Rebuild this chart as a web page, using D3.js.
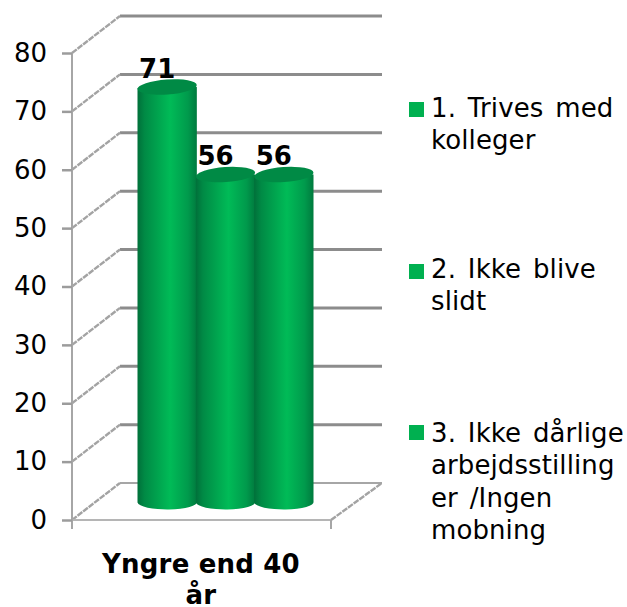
<!DOCTYPE html>
<html>
<head>
<meta charset="utf-8">
<script src="https://cdn.jsdelivr.net/npm/d3@7"></script>
<style>
  html, body { margin: 0; padding: 0; background: #fff; }
  svg { display: block; }
  text { font-family: "DejaVu Sans", sans-serif; fill: #000; }
</style>
</head>
<body>
<div class="container"></div>
<script>
(function(d3) {
  "use strict";

  var seriesNames = ["1. Trives med kolleger", "2. Ikke blive slidt", "3. Ikke dårlige arbejdsstillinger /Ingen mobning"];
  var seriesValues = [71, 56, 56];
  var yTicks = [0, 10, 20, 30, 40, 50, 60, 70, 80];
  var categoryLines = ["Yngre end 40", "år"];
  var legendLines = [
    ["1. Trives med", "kolleger"],
    ["2. Ikke blive", "slidt"],
    ["3. Ikke dårlige", "arbejdsstilling", "er /Ingen", "mobning"]
  ];

  var width = 627, height = 607;
  var depthX = 48, depthY = -37;

  var y = d3.scaleLinear().domain([0, 80]).range([520, 53]);
  var x = d3.scaleBand().domain(seriesNames).range([114, 289]);

  var svg = d3.select(".container").append("svg")
      .attr("width", width)
      .attr("height", height);

  var defs = svg.append("defs");
  var grad = defs.append("linearGradient").attr("id", "cyl");
  [[0, "#00703a"], [0.12, "#008a45"], [0.55, "#00bb57"], [0.85, "#009a4c"], [1, "#007a3e"]].forEach(function(s) {
    grad.append("stop").attr("offset", s[0]).attr("stop-color", s[1]);
  });

  // walls and floor
  var walls = svg.append("g");
  yTicks.forEach(function(t) {
    walls.append("line")
        .attr("x1", 120).attr("x2", 382)
        .attr("y1", y(t) + depthY).attr("y2", y(t) + depthY)
        .attr("stroke", t === 0 ? "#a6a6a6" : "#8c8c8c")
        .attr("stroke-width", t === 0 ? 2 : 3);
    walls.append("line")
        .attr("x1", 72).attr("x2", 120)
        .attr("y1", y(t)).attr("y2", y(t) + depthY)
        .attr("stroke", "#a3a3a3")
        .attr("stroke-width", 2.4)
        .attr("stroke-dasharray", "6 1");
  });
  walls.append("line")
      .attr("x1", 331).attr("x2", 382)
      .attr("y1", y(0)).attr("y2", y(0) + depthY)
      .attr("stroke", "#a3a3a3").attr("stroke-width", 2.4)
      .attr("stroke-dasharray", "6 1");
  walls.append("line")
      .attr("x1", 72).attr("x2", 331)
      .attr("y1", y(0)).attr("y2", y(0))
      .attr("stroke", "#b5b5b5").attr("stroke-width", 2);
  walls.append("line")
      .attr("x1", 72).attr("x2", 72)
      .attr("y1", y(80)).attr("y2", 529)
      .attr("stroke", "#a6a6a6").attr("stroke-width", 2);
  walls.append("line")
      .attr("x1", 331).attr("x2", 331)
      .attr("y1", y(0)).attr("y2", 529)
      .attr("stroke", "#a6a6a6").attr("stroke-width", 2);

  // y axis
  var axis = d3.axisLeft(y).tickValues(yTicks).tickSize(10).tickPadding(15);
  var axisG = svg.append("g")
      .attr("transform", "translate(72,0)")
      .call(axis);
  axisG.select(".domain").remove();
  axisG.selectAll(".tick line").attr("stroke", "#9c9c9c").attr("stroke-width", 2.5);
  axisG.selectAll(".tick text")
      .style("font-family", '"DejaVu Sans", sans-serif')
      .style("font-size", "26px")
      .attr("fill", "#000");

  // cylinders, back to front
  var rx = x.bandwidth() / 2 + 0.5, ry = 7.5;
  var bars = svg.selectAll(".bar")
      .data(seriesValues)
    .enter().append("g")
      .attr("class", "bar")
      .attr("transform", function(d, i) {
        return "translate(" + (x(seriesNames[i]) + x.bandwidth() / 2 + depthX / 2) + ",0)";
      });

  bars.append("path")
      .attr("fill", "url(#cyl)")
      .attr("d", function(d) {
        var top = y(d) + depthY / 2 + 1, bottom = y(0) + depthY / 2 + 1;
        return "M" + (-rx) + "," + top +
          "L" + (-rx) + "," + bottom +
          "A" + rx + "," + ry + " 0 0 0 " + rx + "," + (bottom - 1) +
          "L" + rx + "," + (top - 1) + "Z";
      });

  bars.append("ellipse")
      .attr("rx", rx)
      .attr("ry", ry)
      .attr("fill", "#008a45")
      .attr("transform", function(d) {
        return "translate(0," + (y(d) + depthY / 2) + ") rotate(-4)";
      });

  // data labels
  svg.append("g").selectAll("text")
      .data(seriesValues)
    .enter().append("text")
      .attr("x", function(d, i) { return x(seriesNames[i]) + x.bandwidth() / 2 + 14; })
      .attr("y", function(d) { return y(d) - 28; })
      .attr("text-anchor", "middle")
      .style("font-size", "26px")
      .style("font-weight", "bold")
      .text(function(d) { return d; });

  // category label
  svg.append("g").selectAll("text")
      .data(categoryLines)
    .enter().append("text")
      .attr("x", 201)
      .attr("y", function(d, i) { return 573 + i * 31; })
      .attr("text-anchor", "middle")
      .style("font-size", "26px")
      .style("font-weight", "bold")
      .style("letter-spacing", "0.2px")
      .text(function(d) { return d; });

  // legend
  var legendBaseline = [117, 278, 442];
  var legendSwatchTop = [102, 264, 425];
  var legend = svg.append("g").selectAll("g")
      .data(legendLines)
    .enter().append("g");

  legend.append("rect")
      .attr("x", 409)
      .attr("y", function(d, i) { return legendSwatchTop[i]; })
      .attr("width", 15).attr("height", 15)
      .attr("fill", "#00b050");

  legend.each(function(lines, k) {
    d3.select(this).selectAll("text")
        .data(lines)
      .enter().append("text")
        .attr("x", 431)
        .attr("y", function(d, i) { return legendBaseline[k] + i * 32.3; })
        .style("font-size", "26px")
        .style("letter-spacing", "0.1px")
        .style("word-spacing", "3.5px")
        .text(function(d) { return d; });
  });

}(d3));
</script>
</body>
</html>
